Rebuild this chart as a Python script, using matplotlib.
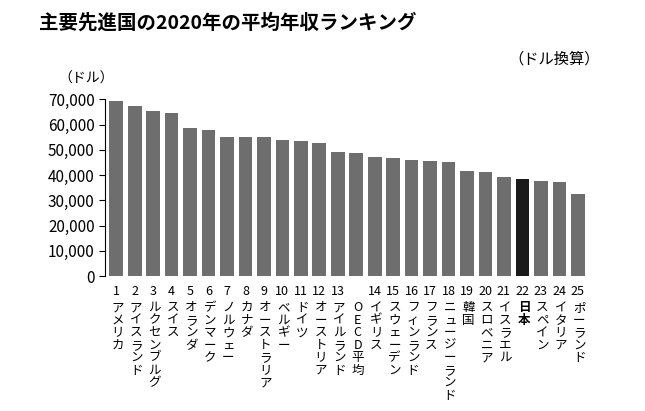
import matplotlib.pyplot as plt

plt.rcParams['font.family'] = ['Noto Sans CJK JP', 'DejaVu Sans']

ranks = ['1', '2', '3', '4', '5', '6', '7', '8', '9', '10', '11', '12', '13', '',
         '14', '15', '16', '17', '18', '19', '20', '21', '22', '23', '24', '25']
countries = ['アメリカ', 'アイスランド', 'ルクセンブルグ', 'スイス', 'オランダ', 'デンマーク',
             'ノルウェー', 'カナダ', 'オーストラリア', 'ベルギー', 'ドイツ', 'オーストリア',
             'アイルランド', 'OECD平均', 'イギリス', 'スウェーデン', 'フィンランド', 'フランス',
             'ニュージーランド', '韓国', 'スロベニア', 'イスラエル', '日本', 'スペイン',
             'イタリア', 'ポーランド']
salary = [69200, 67300, 65400, 64500, 58500, 58100, 55300, 55000, 55000, 53800,
          53400, 52900, 49200, 48600, 47100, 46700, 46000, 45600, 45200, 41500,
          41100, 39200, 38500, 37600, 37500, 32400]

fig = plt.figure(figsize=(6.45, 4.11), dpi=100)
ax = fig.add_axes([0.163, 0.328, 0.75, 0.43])

x = range(len(salary))
colors = ['#1a1a1a' if c == '日本' else '#6e6e6e' for c in countries]
ax.bar(x, salary, width=0.74, color=colors, zorder=2)
ax.set_xlim(-0.6, len(salary) - 0.4)
ax.set_ylim(0, 70000)
ax.set_yticks(range(0, 70001, 10000))
ax.set_yticklabels([f'{v:,}' for v in range(0, 70001, 10000)], fontsize=11)
ax.tick_params(axis='y', length=4, width=0.8)
ax.set_xticks([])
for s in ['top', 'right']:
    ax.spines[s].set_visible(False)
ax.spines['bottom'].set_visible(False)

for i, (r, c) in enumerate(zip(ranks, countries)):
    ax.annotate(r, (i, 0), xytext=(0, -6), textcoords='offset points',
                ha='center', va='top', fontsize=9)
    if c == 'OECD平均':
        txt = '\n'.join(list('OECD') + ['平', '均'])
    else:
        txt = '\n'.join(c)
    ax.annotate(txt, (i, 0), xytext=(1, -18), textcoords='offset points',
                ha='center', va='top', fontsize=9, linespacing=0.95,
                fontweight='bold' if c == '日本' else 'normal')

fig.text(0.06, 0.93, '主要先進国の2020年の平均年収ランキング', fontsize=14, fontweight='bold')
fig.text(0.93, 0.845, '（ドル換算）', fontsize=11, ha='right')
fig.text(0.09, 0.8, '（ドル）', fontsize=10)

fig.savefig('out.png', dpi=100)
